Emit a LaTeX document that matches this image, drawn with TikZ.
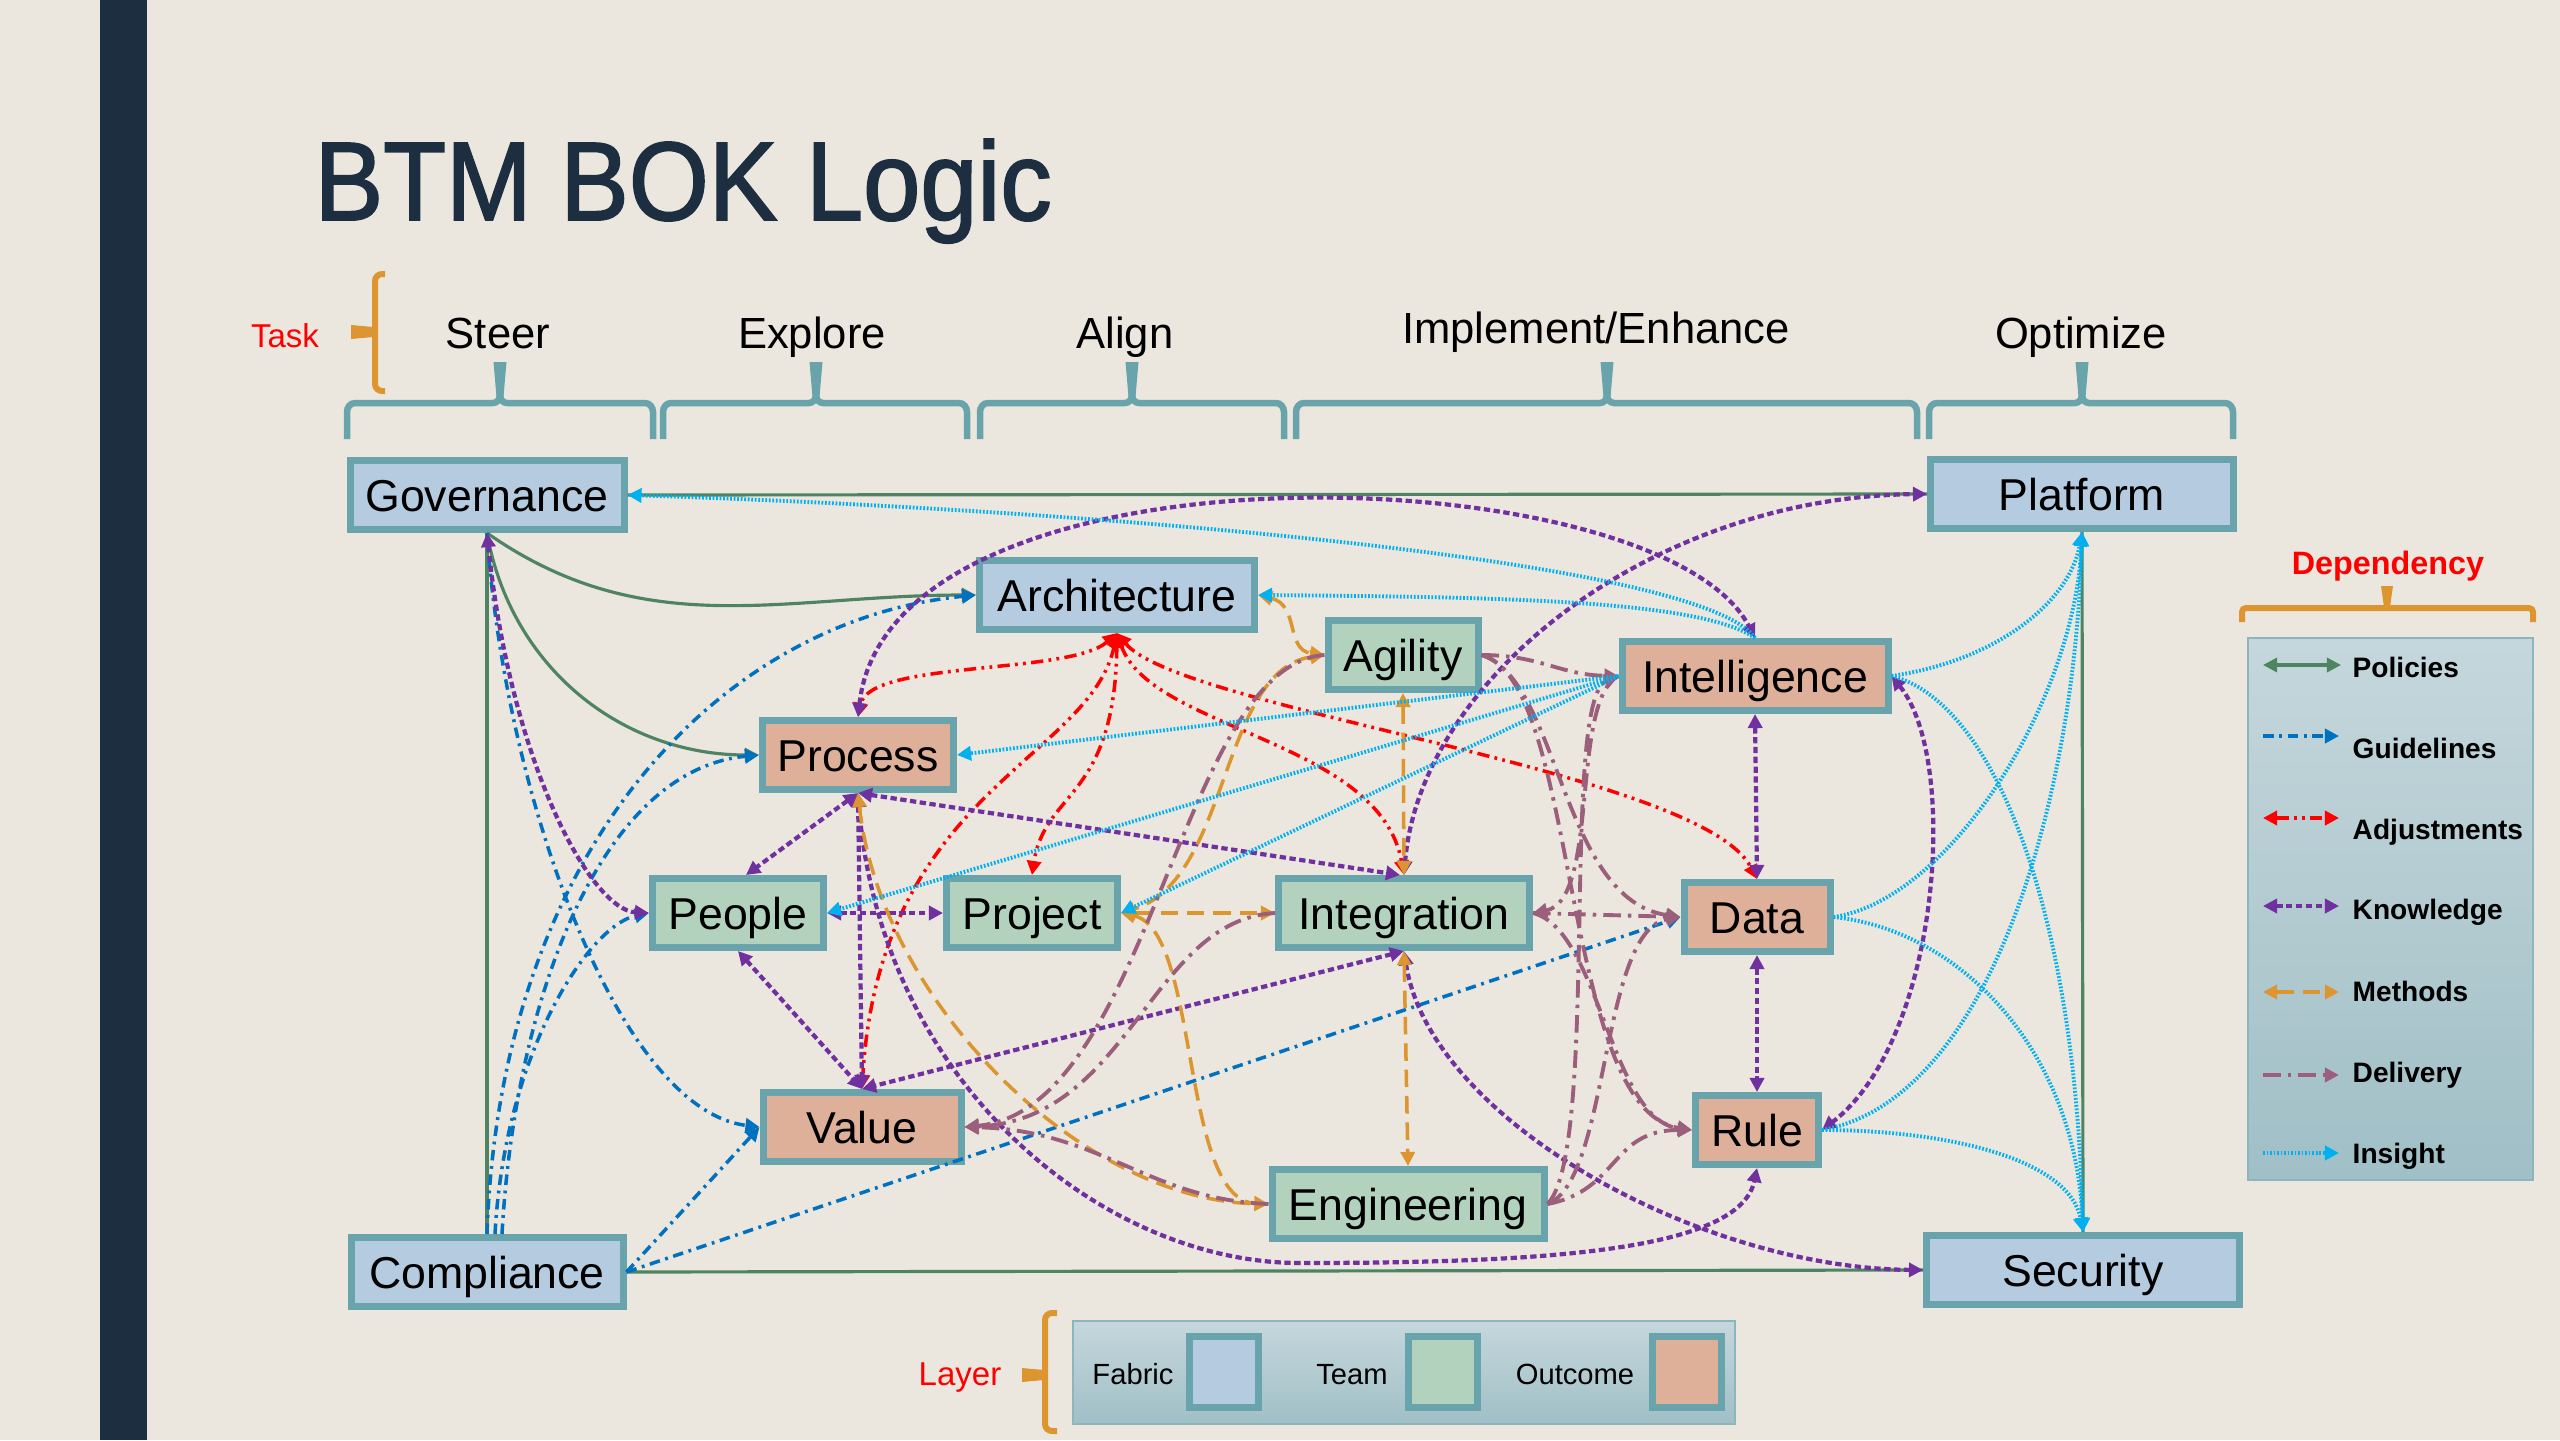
\documentclass[tikz,border=0pt]{standalone}
\usepackage{fontspec}
\setmainfont{Liberation Sans}
\newfontfamily\titlefont[FakeStretch=0.92,FakeBold=1.6]{Liberation Sans}
\usetikzlibrary{arrows.meta}
\definecolor{bg}{HTML}{EBE7DE}
\definecolor{bar}{HTML}{1D2E40}
\definecolor{rim}{HTML}{69A3AB}
\definecolor{fabric}{HTML}{B4CBE0}
\definecolor{team}{HTML}{B2D2BE}
\definecolor{outcome}{HTML}{DEB09A}
\definecolor{pol}{HTML}{4E8462}
\definecolor{gui}{HTML}{0070C0}
\definecolor{adj}{HTML}{FF0000}
\definecolor{kno}{HTML}{7030A0}
\definecolor{met}{HTML}{DD9530}
\definecolor{del}{HTML}{9B5F7B}
\definecolor{ins}{HTML}{00B0F0}
\definecolor{legtop}{HTML}{C5D7DC}
\definecolor{legbot}{HTML}{A0BFC6}
\definecolor{legline}{HTML}{8CB5BD}

\tikzset{
  box/.style={draw=rim, line width=0.07cm, minimum height=0.69cm, inner sep=0pt,
    text height=0.32cm, text depth=0pt, font=\fontsize{12.7}{15}\selectfont},
  fabricbox/.style={box, fill=fabric},
  teambox/.style={box, fill=team},
  outcomebox/.style={box, fill=outcome},
  tasklabel/.style={anchor=base, inner sep=0pt, font=\fontsize{12.4}{15}\selectfont},
  lbl/.style={anchor=base west, inner sep=0pt, font=\bfseries\fontsize{8}{9.6}\selectfont},
  layerlbl/.style={anchor=base, inner sep=0pt, font=\fontsize{8.3}{10}\selectfont},
  policy/.style={draw=pol, line width=0.9pt},
  guide/.style={draw=gui, line width=1pt, dash pattern=on 3pt off 1.6pt on 0.8pt off 1.6pt, ->},
  adjust/.style={draw=adj, line width=1pt, dash pattern=on 3.5pt off 1.5pt on 0.8pt off 1.5pt on 0.8pt off 1.5pt, <->},
  know/.style={draw=kno, line width=1.2pt, dash pattern=on 1.8pt off 1pt, <->},
  method/.style={draw=met, line width=1pt, dash pattern=on 5pt off 2.5pt, <->},
  deliver/.style={draw=del, line width=1.1pt, dash pattern=on 5pt off 2pt on 1pt off 2pt, ->},
  insight/.style={draw=ins, line width=1.1pt, dash pattern=on 0.5pt off 0.5pt, ->},
  brace/.style={draw=rim, line width=0.065cm},
  bracket/.style={draw=met, line width=0.06cm},
}

\begin{document}
\begin{tikzpicture}[>={Triangle[length=4pt,width=4pt]}]
  \useasboundingbox (0,0) rectangle (25.6,-14.4);
  \fill[bg] (0,0) rectangle (25.6,-14.4);
  \fill[bar] (1.00,0) rectangle (1.47,-14.4);

  % title and tasks
  \path
  (3.14,-2.20) node[anchor=base west, inner sep=0pt, text=bar, font={\titlefont\fontsize{31.8}{36}\selectfont}](title) {BTM BOK Logic}
  (2.85,-3.47) node[anchor=base, inner sep=0pt, text=red, font=\fontsize{9.4}{11}\selectfont](task) {Task}
  (4.98,-3.48) node[tasklabel](steer) {Steer}
  (8.12,-3.48) node[tasklabel](explore) {Explore}
  (11.25,-3.48) node[tasklabel](align) {Align}
  (15.96,-3.43) node[tasklabel](implement) {Implement/Enhance}
  (20.81,-3.48) node[tasklabel](optimize) {Optimize}
  ;

  \draw[bracket, rounded corners=2pt] (3.85,-2.74) -- (3.75,-2.74) -- (3.75,-3.91) -- (3.85,-3.91);
  \fill[met] (3.51,-3.25) -- (3.73,-3.27) -- (3.73,-3.37) -- (3.51,-3.39) -- cycle;

  \foreach \a/\m/\b in {3.47/5.00/6.53, 6.63/8.16/9.67, 9.80/11.32/12.84, 12.96/16.07/19.17, 19.29/20.82/22.33} {
    \draw[brace] (\a,-4.39) -- (\a,-4.12) to[out=90,in=180] ({\a+0.08},-4.03) -- ({\m-0.07},-4.03) to[out=0,in=-90] (\m,-3.95);
    \draw[brace] (\b,-4.39) -- (\b,-4.12) to[out=90,in=0] ({\b-0.08},-4.03) -- ({\m+0.07},-4.03) to[out=180,in=-90] (\m,-3.95);
    \fill[rim] ({\m-0.065},-3.62) -- ({\m+0.065},-3.62) -- ({\m+0.035},-3.97) -- ({\m-0.035},-3.97) -- cycle;
  }

  % dependency legend
  \node[anchor=base, inner sep=0pt, text=red, font=\bfseries\fontsize{9.2}{11}\selectfont] (dep) at (23.88,-5.74) {Dependency};
  \draw[bracket] (22.42,-6.22) -- (22.42,-6.12) to[out=90,in=180] (22.46,-6.08) -- (25.29,-6.08) to[out=0,in=90] (25.33,-6.12) -- (25.33,-6.22);
  \fill[met] (23.81,-5.86) -- (23.93,-5.86) -- (23.90,-6.07) -- (23.84,-6.07) -- cycle;
  \shade[top color=legtop, bottom color=legbot, draw=legline, line width=0.5pt] (22.48,-6.38) rectangle (25.33,-11.80);
  \path
  (23.52,-6.77) node[lbl](lpol) {Policies}
  (23.52,-7.58) node[lbl](lgui) {Guidelines}
  (23.52,-8.39) node[lbl](ladj) {Adjustments}
  (23.52,-9.19) node[lbl](lkno) {Knowledge}
  (23.52,-10.01) node[lbl](lmet) {Methods}
  (23.52,-10.82) node[lbl](ldel) {Delivery}
  (23.52,-11.63) node[lbl](lins) {Insight}
  ;
  \draw[policy,<->] (22.63,-6.65) -- (23.41,-6.65);
  \draw[guide] (22.63,-7.36) -- (23.39,-7.36);
  \draw[adjust] (22.63,-8.18) -- (23.39,-8.18);
  \draw[know] (22.63,-9.06) -- (23.39,-9.06);
  \draw[method] (22.63,-9.92) -- (23.39,-9.92);
  \draw[deliver] (22.63,-10.75) -- (23.39,-10.75);
  \draw[insight] (22.63,-11.53) -- (23.39,-11.53);

  % layer legend
  \node[anchor=base, inner sep=0pt, text=red, font=\fontsize{9.4}{11}\selectfont] (layer) at (9.60,-13.85) {Layer};
  \draw[bracket, rounded corners=2pt] (10.57,-13.13) -- (10.45,-13.13) -- (10.45,-14.31) -- (10.57,-14.31);
  \fill[met] (10.22,-13.68) -- (10.44,-13.70) -- (10.44,-13.80) -- (10.22,-13.82) -- cycle;
  \shade[top color=legtop, bottom color=legbot, draw=legline, line width=0.5pt] (10.73,-13.21) rectangle (17.35,-14.24);
  \path
  (11.33,-13.84) node[layerlbl](lfab) {Fabric}
  (12.24,-13.72) node[fabricbox, minimum width=0.69cm, minimum height=0.71cm](sfab) {}
  (13.52,-13.84) node[layerlbl](lteam) {Team}
  (14.43,-13.72) node[teambox, minimum width=0.69cm, minimum height=0.71cm](steam) {}
  (15.75,-13.84) node[layerlbl](lout) {Outcome}
  (16.87,-13.72) node[outcomebox, minimum width=0.69cm, minimum height=0.71cm](sout) {}
  ;

  % boxes
  \path
  (4.87,-4.95) node[fabricbox, minimum width=2.74cm](gov) {Governance}
  (20.82,-4.94) node[fabricbox, minimum width=3.03cm](plat) {Platform}
  (11.17,-5.95) node[fabricbox, minimum width=2.75cm](arch) {Architecture}
  (14.03,-6.55) node[teambox, minimum width=1.50cm](agil) {Agility}
  (17.55,-6.76) node[outcomebox, minimum width=2.66cm](intel) {Intelligence}
  (8.58,-7.55) node[outcomebox, minimum width=1.91cm](proc) {Process}
  (7.38,-9.13) node[teambox, minimum width=1.71cm](peop) {People}
  (10.32,-9.13) node[teambox, minimum width=1.71cm](proj) {Project}
  (14.04,-9.13) node[teambox, minimum width=2.51cm](integ) {Integration}
  (17.57,-9.17) node[outcomebox, minimum width=1.46cm](data) {Data}
  (8.62,-11.27) node[outcomebox, minimum width=1.98cm](val) {Value}
  (17.57,-11.30) node[outcomebox, minimum width=1.23cm](rule) {Rule}
  (14.08,-12.04) node[teambox, minimum width=2.72cm](eng) {Engineering}
  (4.87,-12.72) node[fabricbox, minimum width=2.72cm](comp) {Compliance}
  (20.83,-12.70) node[fabricbox, minimum width=3.13cm](sec) {Security}
  ;

  % policies
  \draw[policy] (gov.east) -- (plat.west);
  \draw[policy,->] (gov.south) to[out=-35,in=180] (arch.west);
  \draw[policy,->] (gov.south) to[out=-80,in=180] (proc.west);
  \draw[policy] (comp.north) -- (gov.south);
  \draw[policy] (comp.east) -- (sec.west);
  \draw[policy] (plat.south) -- (sec.north);

  % guidelines
  \draw[guide] (comp.north) .. controls (5.00,-8.50) and (7.20,-6.20) .. (arch.west);
  \draw[guide] ([xshift=0.15cm]comp.north) .. controls (5.15,-10.00) and (6.00,-7.70) .. (proc.west);
  \draw[guide] ([xshift=0.08cm]comp.north) .. controls (5.05,-10.50) and (5.90,-9.25) .. (peop.west);
  \draw[guide] (gov.south) .. controls (5.05,-8.00) and (6.20,-11.10) .. (val.west);
  \draw[guide] (comp.east) -- (val.west);
  \draw[guide] (comp.east) -- (data.west);

  % adjustments
  \draw[adjust] (arch.south) .. controls (10.70,-6.75) and (8.70,-6.60) .. (proc.north);
  \draw[adjust] (arch.south) .. controls (11.15,-8.00) and (10.45,-7.90) .. (proj.north);
  \draw[adjust] (arch.south) .. controls (10.90,-7.60) and (8.80,-7.90) .. (val.north);
  \draw[adjust] (arch.south) .. controls (11.50,-7.30) and (13.80,-7.40) .. (integ.north);
  \draw[adjust] (arch.south) .. controls (11.80,-7.10) and (17.00,-7.70) .. (data.north);

  % knowledge
  \draw[know] (gov.south) .. controls (5.10,-7.60) and (5.90,-9.10) .. (peop.west);
  \draw[know] (proc.south) -- ([xshift=0.08cm]peop.north);
  \draw[know] (proc.south) -- (val.north);
  \draw[know] (proc.south) -- ([xshift=-0.04cm]integ.north);
  \draw[know] (proc.south) .. controls (8.80,-10.80) and (11.00,-12.63) .. (13.00,-12.63)
    .. controls (15.50,-12.63) and (17.40,-12.50) .. (rule.south);
  \draw[know] (integ.south) .. controls (14.30,-11.20) and (17.00,-12.68) .. (sec.west);
  \draw[know] (peop.east) -- (proj.west);
  \draw[know] (peop.south) -- (val.north);
  \draw[know] (integ.south) -- (val.north);
  \draw[know] (proc.north) .. controls (8.90,-4.30) and (16.60,-4.55) .. (intel.north);
  \draw[know] (integ.north) .. controls (14.20,-6.80) and (16.50,-4.97) .. (plat.west);
  \draw[know] (intel.south) -- (data.north);
  \draw[know] (data.south) -- (rule.north);
  \draw[know] (intel.east) .. controls (19.60,-7.60) and (19.40,-10.40) .. (rule.east);

  % methods
  \draw[method] (arch.east) .. controls (13.00,-6.05) and (12.85,-6.50) .. (agil.west);
  \draw[method] (agil.west) .. controls (12.20,-6.70) and (12.30,-8.80) .. (proj.east);
  \draw[method] (agil.south) -- (integ.north);
  \draw[method] (proj.east) -- (integ.west);
  \draw[method] (integ.south) -- (eng.north);
  \draw[method] (proj.east) .. controls (12.00,-9.30) and (11.80,-12.00) .. (eng.west);
  \draw[method] (proc.south) .. controls (8.80,-10.00) and (10.80,-12.00) .. (eng.west);

  % delivery
  \draw[deliver] (agil.east) .. controls (15.40,-6.55) and (15.60,-6.75) .. (intel.west);
  \draw[deliver] (agil.east) .. controls (15.80,-6.80) and (15.60,-11.10) .. (rule.west);
  \draw[deliver] (agil.east) .. controls (15.60,-6.80) and (15.60,-9.00) .. (data.west);
  \draw[deliver] (agil.west) .. controls (11.80,-6.65) and (11.50,-11.10) .. (val.east);
  \draw[deliver] (integ.west) .. controls (11.50,-9.20) and (11.30,-11.20) .. (val.east);
  \draw[deliver] (eng.west) .. controls (11.50,-12.00) and (11.00,-11.30) .. (val.east);
  \draw[deliver] (integ.east) -- (data.west);
  \draw[deliver] (integ.east) .. controls (16.00,-9.30) and (16.10,-11.20) .. (rule.west);
  \draw[deliver] (intel.west) .. controls (15.70,-7.00) and (16.00,-9.00) .. (integ.east);
  \draw[deliver] (eng.east) .. controls (16.00,-11.50) and (15.60,-7.00) .. (intel.west);
  \draw[deliver] (eng.east) .. controls (16.10,-11.80) and (16.00,-9.30) .. (data.west);
  \draw[deliver] (eng.east) .. controls (16.20,-11.90) and (16.10,-11.30) .. (rule.west);

  % insight
  \draw[insight] (intel.north) .. controls (17.00,-5.60) and (11.00,-5.10) .. (gov.east);
  \draw[insight] (intel.north) .. controls (17.00,-6.00) and (15.00,-5.97) .. (arch.east);
  \draw[insight] (intel.west) -- (proc.east);
  \draw[insight] (intel.west) -- (peop.east);
  \draw[insight] (intel.west) -- (proj.east);
  \draw[insight] (intel.east) .. controls (20.00,-6.60) and (20.70,-6.00) .. (plat.south);
  \draw[insight] (intel.east) .. controls (19.90,-7.00) and (20.75,-9.00) .. (sec.north);
  \draw[insight] (data.east) .. controls (19.50,-9.00) and (20.75,-7.00) .. (plat.south);
  \draw[insight] (data.east) .. controls (19.60,-9.30) and (20.75,-10.50) .. (sec.north);
  \draw[insight] (rule.east) .. controls (19.90,-11.00) and (20.75,-8.00) .. (plat.south);
  \draw[insight] (rule.east) .. controls (19.50,-11.30) and (20.70,-11.60) .. (sec.north);
\end{tikzpicture}
\end{document}
